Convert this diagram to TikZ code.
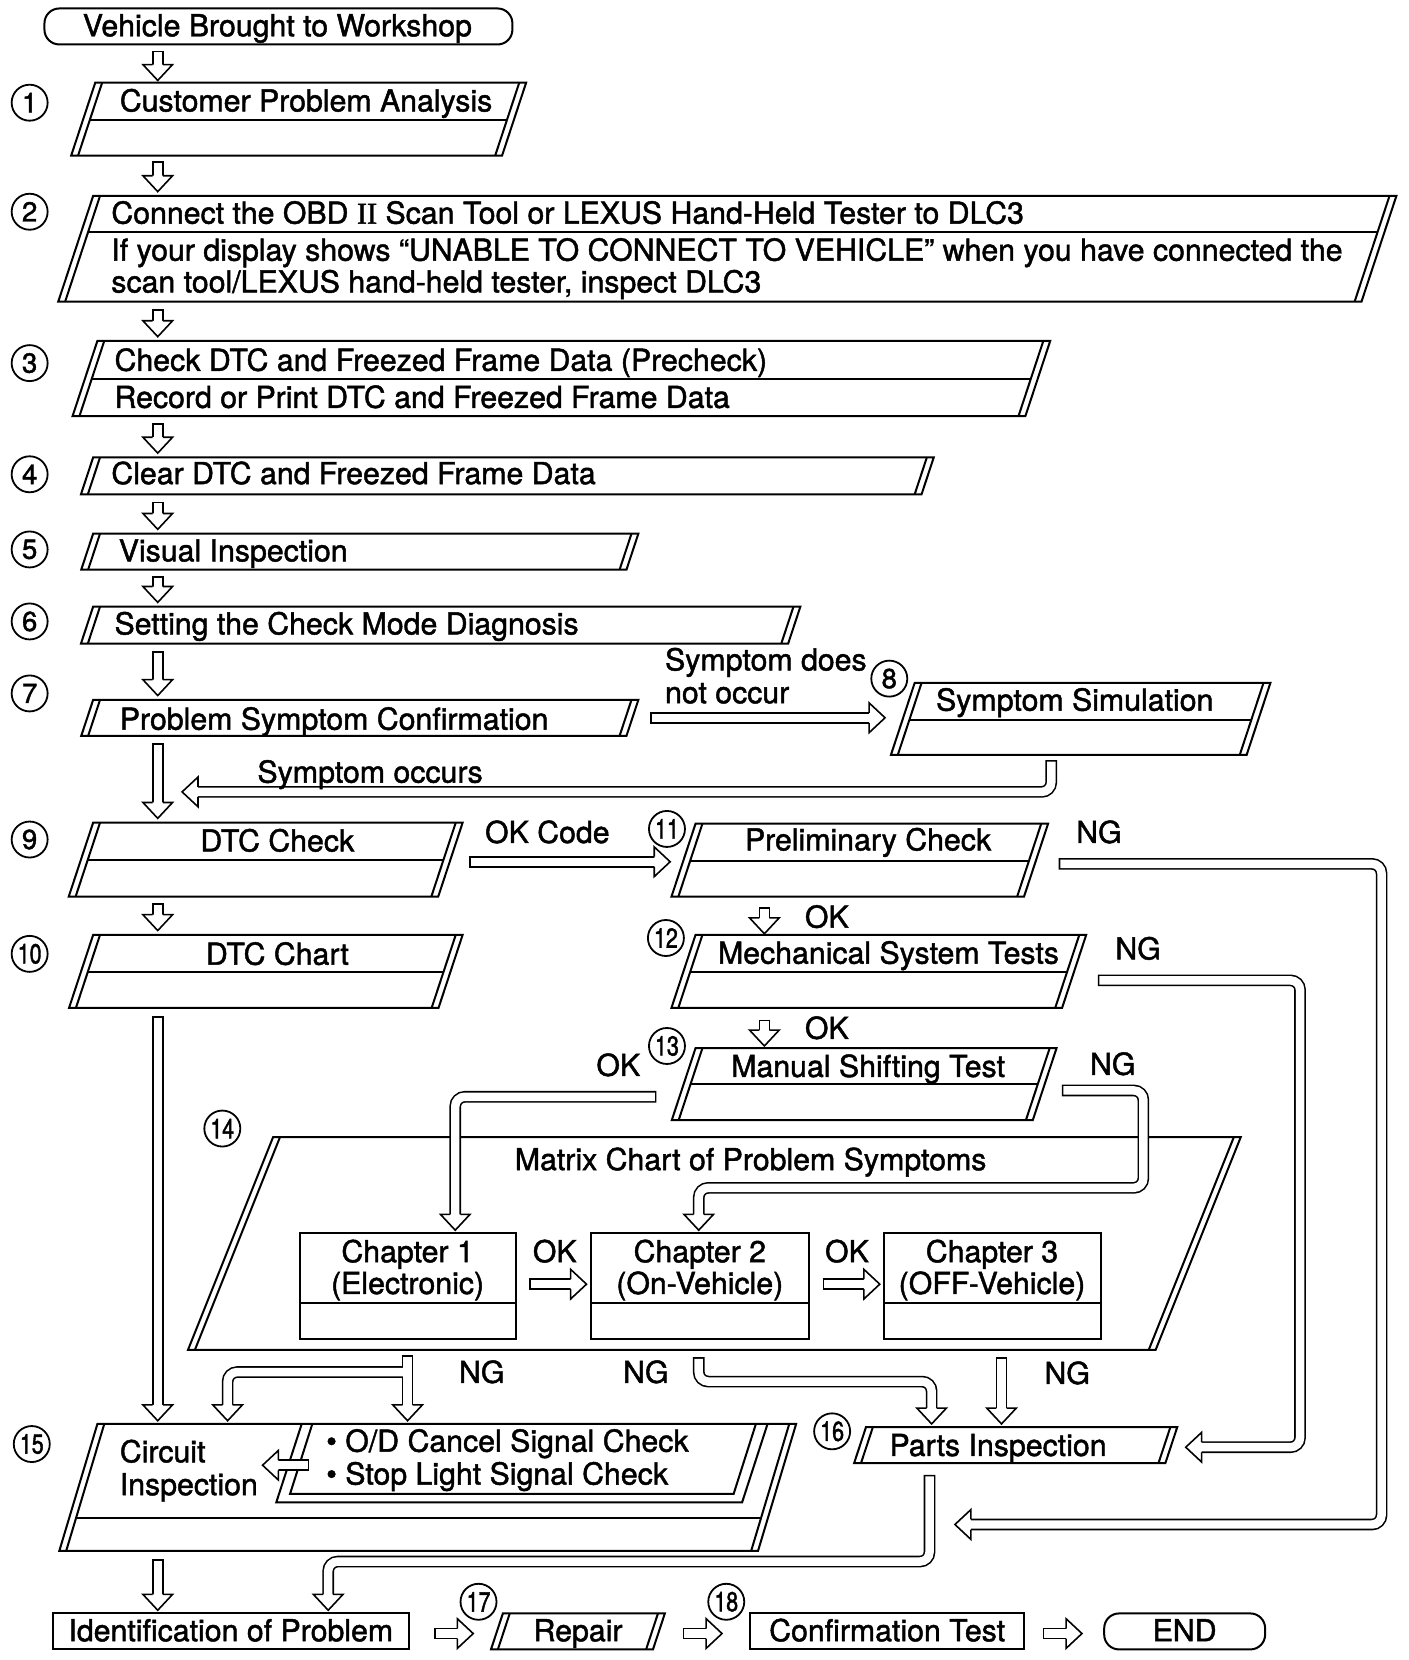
\documentclass[tikz,border=0pt]{standalone}
\usepackage{fontspec}
\setmainfont[FakeBold=1.5]{TeX Gyre Heros}
\newfontfamily\narrowfont[FakeStretch=0.78, FakeBold=1.5]{TeX Gyre Heros}
\newfontfamily\seriffont[FakeBold=1.5]{Liberation Serif}
\usetikzlibrary{calc}

\tikzset{
  boxline/.style={line width=1.9pt, line join=miter},
  txt/.style={inner sep=0pt, text height=20.5pt, text depth=0pt, font=\fontsize{28.6}{30}\selectfont},
  lbl/.style={txt, anchor=west},
  num/.style={circle, draw, line width=1.7pt, minimum size=34pt, inner sep=0pt, font=\fontsize{26}{26}\selectfont},
  numw/.style={num, font=\narrowfont\fontsize{26}{26}\selectfont},
  shaftout/.style={line width=11pt, rounded corners=9pt},
  shaftin/.style={white, line width=8pt, rounded corners=9pt, shorten <=1.5pt},
  shaftopen/.style={white, line width=8pt, rounded corners=9pt},
  headline/.style={line width=1.5pt, line join=miter},
  blkhead/.pic={
    \fill[white] (-14,-15) -- (0,0) -- (14,-15) -- cycle;
    \draw[headline] (-4.75,-15) -- (-14,-15) -- (0,0) -- (14,-15) -- (4.75,-15);
  }
}

% slanted box with doubled sides
\def\slope{0.33}
\newcommand\pbox[5]{%
  \pgfmathsetmacro\psh{\slope*(#5-#3)}
  \coordinate (#1-tl) at (#2,#3);
  \coordinate (#1-tr) at (#4,#3);
  \coordinate (#1-bl) at ({#2-\psh},#5);
  \coordinate (#1-br) at ({#4-\psh},#5);
  \draw[boxline] (#1-tl) -- (#1-tr) -- (#1-br) -- (#1-bl) -- cycle;
  \draw[boxline] ($(#1-tl)+(6.5,0)$) -- ($(#1-bl)+(6.5,0)$)
                 ($(#1-tr)+(-6.5,0)$) -- ($(#1-br)+(-6.5,0)$);
}
\newcommand\pboxm[6]{%
  \pbox{#1}{#2}{#3}{#4}{#5}
  \pgfmathsetmacro\pfr{(#6-#3)/(#5-#3)}
  \draw[boxline] ($(#1-tl)!\pfr!(#1-bl)+(6.5,0)$) -- ($(#1-tr)!\pfr!(#1-br)+(-6.5,0)$);
}
% hollow block arrows
\newcommand\blk[1]{\draw[shaftout] #1; \draw[shaftin] #1;}
\newcommand\blkopen[1]{\draw[shaftout] #1; \draw[shaftopen] #1;}
\newcommand\darr[2]{\blk{(#1) -- ($(#2)+(0,-14)$)} \pic at (#2) {blkhead};}
\newcommand\rarr[2]{\blk{(#1) -- ($(#2)+(-14,0)$)} \pic[rotate=90] at (#2) {blkhead};}
\newcommand\larr[2]{\blk{(#1) -- ($(#2)+(14,0)$)} \pic[rotate=-90] at (#2) {blkhead};}

\begin{document}
\begin{tikzpicture}[x=1pt, y=-1pt]
\useasboundingbox (0,0) rectangle (1330,1568);

% boxes
\draw[boxline, rounded corners=14pt] (42,8) rectangle (484,42);
\pboxm{b1}{90}{78}{497}{147}{113}
\pboxm{b2}{88}{185}{1319}{285}{219}
\pboxm{b3}{92}{322}{992}{393}{358}
\pbox{b4}{88}{432}{882}{467}
\pbox{b5}{88}{504}{603}{538}
\pbox{b6}{88}{573}{756}{608}
\pbox{b7}{88}{661}{603}{695}
\pboxm{b8}{864}{645}{1200}{713}{680}
\pboxm{b9}{88}{777}{437}{847}{812}
\pboxm{b10}{88}{883}{437}{952}{918}
\pboxm{b11}{657}{778}{990}{847}{813}
\pboxm{b12}{657}{883}{1026}{952}{918}
\pboxm{b13}{657}{990}{998}{1058}{1024}
{\def\slope{0.4}\pbox{b14}{258}{1074}{1172}{1275}}
\foreach \xl/\xr in {283/487, 558/764, 835/1040}
  \draw[boxline] (\xl,1165) rectangle (\xr,1265) (\xl,1231) -- (\xr,1231);
{\def\slope{0.3}\pboxm{b15}{92}{1345}{752}{1465}{1434}}
\draw[boxline] (295,1345) -- (274,1411) -- (693,1411) -- (714,1345);
\draw[boxline] (285,1345) -- (261,1419) -- (701,1419) -- (725,1345);
\pbox{b16}{818}{1348}{1112}{1382}
\draw[boxline] (50,1524) rectangle (386,1558);
\pbox{rep}{475}{1524}{628}{1558}
\draw[boxline] (708,1524) rectangle (967,1558);
\draw[boxline, rounded corners=14pt] (1043,1524) rectangle (1195,1558);

% arrows down the left column
\foreach \i/\ys/\yt in {0/48/76, 1/152/181, 2/292/318, 3/400/428, 4/474/500,
    5/544/569, 6/615/657, 7/702/773, 8/853/879, 9/960/1342, 10/1473/1521} {
  \coordinate (d\i-s) at (149,\ys);
  \coordinate (d\i-t) at (149,\yt);
  \darr{d\i-s}{d\i-t}
}
% other straight arrows
\coordinate (ok11-s) at (722,857);  \coordinate (ok11-t) at (722,882);
\coordinate (ok12-s) at (722,963);  \coordinate (ok12-t) at (722,988);
\coordinate (ngc1-s) at (385,1280); \coordinate (ngc1-t) at (385,1342);
\coordinate (ngc3-s) at (946,1282); \coordinate (ngc3-t) at (946,1345);
\darr{ok11-s}{ok11-t}
\darr{ok12-s}{ok12-t}
\darr{ngc1-s}{ngc1-t}
\darr{ngc3-s}{ngc3-t}
\coordinate (sim-s) at (614,678);  \coordinate (sim-t) at (836,678);
\coordinate (okc-s) at (443,814);  \coordinate (okc-t) at (633,814);
\coordinate (ch12-s) at (500,1213); \coordinate (ch12-t) at (554,1213);
\coordinate (ch23-s) at (777,1213); \coordinate (ch23-t) at (831,1213);
\coordinate (idr-s) at (410,1543); \coordinate (idr-t) at (447,1543);
\coordinate (rct-s) at (645,1543); \coordinate (rct-t) at (682,1543);
\coordinate (cte-s) at (985,1543); \coordinate (cte-t) at (1022,1543);
\rarr{sim-s}{sim-t}
\rarr{okc-s}{okc-t}
\rarr{ch12-s}{ch12-t}
\rarr{ch23-s}{ch23-t}
\rarr{idr-s}{idr-t}
\rarr{rct-s}{rct-t}
\rarr{cte-s}{cte-t}
\coordinate (sig-s) at (292,1384); \coordinate (sig-t) at (248,1384);
\larr{sig-s}{sig-t}

% bent arrows
\coordinate (occ-s) at (993,718); \coordinate (occ-t) at (172,748);
\blk{(occ-s) |- ($(occ-t)+(14,0)$)}
\pic[rotate=-90] at (occ-t) {blkhead};
\coordinate (ng11-s) at (1000,816); \coordinate (ng11-c) at (1305,1440); \coordinate (ng11-t) at (902,1440);
\blk{(ng11-s) -| (ng11-c) -- ($(ng11-t)+(14,0)$)}
\pic[rotate=-90] at (ng11-t) {blkhead};
\coordinate (ng12-s) at (1037,926); \coordinate (ng12-c) at (1228,1367); \coordinate (ng12-t) at (1120,1367);
\blk{(ng12-s) -| (ng12-c) -- ($(ng12-t)+(14,0)$)}
\pic[rotate=-90] at (ng12-t) {blkhead};
\coordinate (ok13-s) at (620,1036); \coordinate (ok13-t) at (430,1162);
\blk{(ok13-s) -| ($(ok13-t)+(0,-14)$)}
\pic at (ok13-t) {blkhead};
\coordinate (ng13-s) at (1003,1030); \coordinate (ng13-c) at (1080,1122); \coordinate (ng13-t) at (660,1162);
\blk{(ng13-s) -| (ng13-c) -| ($(ng13-t)+(0,-14)$)}
\pic at (ng13-t) {blkhead};
\coordinate (br-s) at (380.5,1296); \coordinate (br-t) at (215,1342);
\blkopen{(br-s) -| ($(br-t)+(0,-14)$)}
\pic at (br-t) {blkhead};
\coordinate (ngc2-s) at (660,1282); \coordinate (ngc2-c) at (880,1305); \coordinate (ngc2-t) at (880,1345);
\blk{(ngc2-s) |- (ngc2-c) -- ($(ngc2-t)+(0,-14)$)}
\pic at (ngc2-t) {blkhead};
\coordinate (pi-s) at (878,1393); \coordinate (pi-c) at (310,1475); \coordinate (pi-t) at (310,1521);
\blk{(pi-s) |- (pi-c) -- ($(pi-t)+(0,-14)$)}
\pic at (pi-t) {blkhead};

% step numbers
\foreach \n/\x/\y in {1/28/97, 2/28/200, 3/28/343, 4/28/448, 5/28/519, 6/28/587,
    7/28/655, 8/840/641, 9/28/793}
  \node[num] (c\n) at (\x,\y) {\n};
\foreach \n/\x/\y in {10/28/901, 11/630/783, 12/629/886, 13/630/988, 14/210/1066,
    15/30/1364, 16/786/1352, 17/452/1513, 18/686/1513}
  \node[numw] (c\n) at (\x,\y) {\n};

% texts
\node[txt] (veh) at (262,24) {Vehicle Brought to Workshop};
\node[lbl] (t1) at (113,95) {Customer Problem Analysis};
\node[lbl] (t2a) at (105,201) {Connect the OBD {\seriffont II} Scan Tool or LEXUS Hand-Held Tester to DLC3};
\node[lbl] (t2b) at (105,236) {If your display shows “UNABLE TO CONNECT TO VEHICLE” when you have connected the};
\node[lbl] (t2c) at (105,266) {scan tool/LEXUS hand-held tester, inspect DLC3};
\node[lbl] (t3a) at (108,340) {Check DTC and Freezed Frame Data (Precheck)};
\node[lbl] (t3b) at (108,375) {Record or Print DTC and Freezed Frame Data};
\node[lbl] (t4) at (105,447) {Clear DTC and Freezed Frame Data};
\node[lbl] (t5) at (112,520) {Visual Inspection};
\node[lbl] (t6) at (108,589) {Setting the Check Mode Diagnosis};
\node[lbl] (t7) at (113,679) {Problem Symptom Confirmation};
\node[lbl] (t8) at (884,661) {Symptom Simulation};
\node[lbl] (nocc1) at (628,623) {Symptom does};
\node[lbl] (nocc2) at (628,654) {not occur};
\node[lbl] (occ) at (243,729) {Symptom occurs};
\node[txt] (t9) at (262,794) {DTC Check};
\node[txt] (t10) at (262,901) {DTC Chart};
\node[lbl] (okcode) at (458,786) {OK Code};
\node[txt] (t11) at (820,793) {Preliminary Check};
\node[lbl] (t12) at (678,900) {Mechanical System Tests};
\node[txt] (t13) at (820,1007) {Manual Shifting Test};
\node[txt] (t14) at (709,1095) {Matrix Chart of Problem Symptoms};
\foreach \n/\x/\y in {ng11/1038/786, ng12/1075/896, ng13/1051/1005,
    ngc1/455/1296, ngc2/610/1296, ngc3/1008/1297}
  \node[txt] (l-\n) at (\x,\y) {NG};
\foreach \n/\x/\y in {ok11/781/866, ok12/781/971, ok13/584/1006,
    ch12/524/1182, ch23/800/1182}
  \node[txt] (l-\n) at (\x,\y) {OK};
\node[txt] (ch1a) at (385,1182) {Chapter 1};
\node[txt] (ch1b) at (385,1212) {(Electronic)};
\node[txt] (ch2a) at (661,1182) {Chapter 2};
\node[txt] (ch2b) at (661,1212) {(On-Vehicle)};
\node[txt] (ch3a) at (937,1182) {Chapter 3};
\node[txt] (ch3b) at (937,1212) {(OFF-Vehicle)};
\node[lbl] (t15a) at (113,1371) {Circuit};
\node[lbl] (t15b) at (113,1402) {Inspection};
\node[lbl] (sig1) at (308,1361) {• O/D Cancel Signal Check};
\node[lbl] (sig2) at (308,1392) {• Stop Light Signal Check};
\node[lbl] (t16) at (840,1365) {Parts Inspection};
\node[txt] (idp) at (218,1540) {Identification of Problem};
\node[txt] (rpr) at (546,1540) {Repair};
\node[txt] (cft) at (838,1540) {Confirmation Test};
\node[txt] (endn) at (1119,1540) {END};
\end{tikzpicture}
\end{document}
